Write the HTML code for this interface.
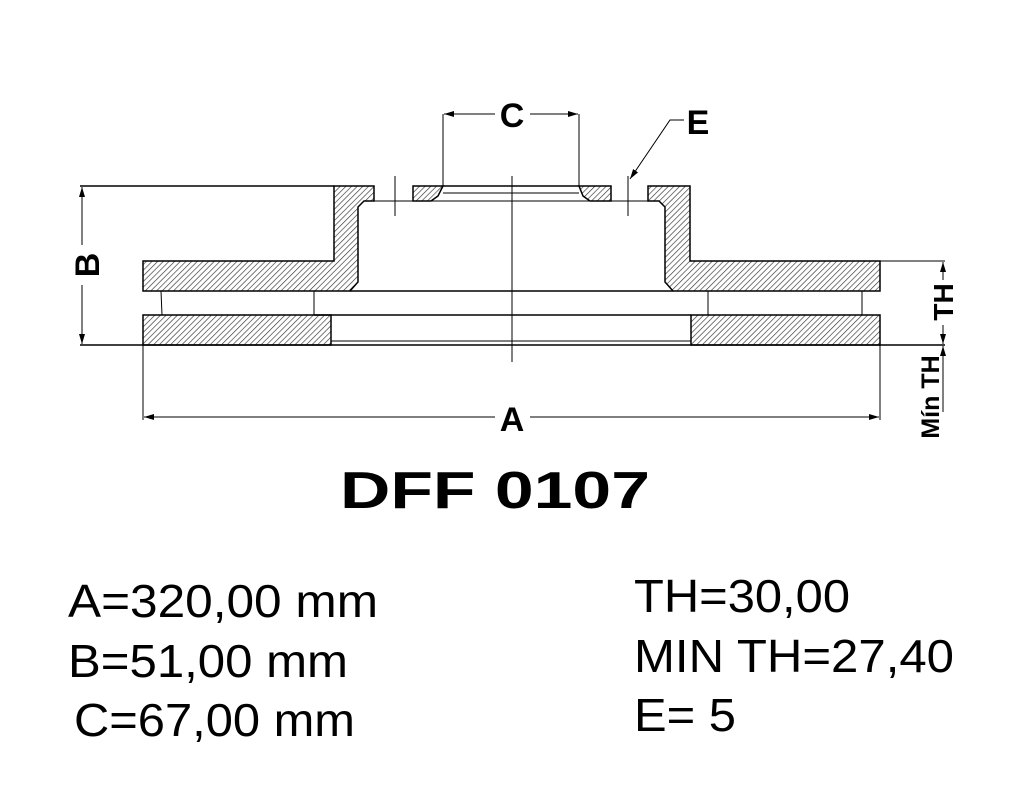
<!DOCTYPE html>
<html><head><meta charset="utf-8"><style>
html,body{margin:0;padding:0;background:#fff;width:1026px;height:794px;overflow:hidden}
svg{display:block}
</style></head><body>
<svg width="1026" height="794" viewBox="0 0 1026 794" xmlns="http://www.w3.org/2000/svg" font-family="Liberation Sans, sans-serif">
<defs>
<pattern id="h" patternUnits="userSpaceOnUse" width="4" height="4" patternTransform="rotate(45)">
<rect width="4" height="4" fill="#fff"/><line x1="0" y1="0" x2="0" y2="4" stroke="#333" stroke-width="1.3"/>
</pattern>
<marker id="ar" markerWidth="10" markerHeight="8" refX="10" refY="4" orient="auto" markerUnits="userSpaceOnUse"><path d="M0,1 L10,4 L0,7 Z" fill="#000"/></marker>
</defs>
<g stroke="#000" stroke-width="1.5" fill="none">
<path d="M334,186 L374,186 L374,201 L364,201 L358,207 L358,282 L350,291 L143,291 L143,261 L334,261 Z" fill="url(#h)"/>
<path d="M690,186 L648,186 L648,201 L659,201 L665,207 L665,282 L673,291 L880,291 L880,261 L690,261 Z" fill="url(#h)"/>
<path d="M413,186 L443,186 L438,196 L431,201 L413,201 Z" fill="url(#h)"/>
<path d="M579,186 L611,186 L611,201 L590,201 L583,196 Z" fill="url(#h)"/>
<rect x="143" y="315" width="188" height="30" fill="url(#h)"/>
<rect x="691" y="315" width="189" height="30" fill="url(#h)"/>
<line x1="80" y1="186" x2="334" y2="186"/>
<line x1="443" y1="186" x2="579" y2="186"/>
<line x1="443" y1="193" x2="579" y2="193" stroke-width="1"/>
<line x1="374" y1="201" x2="648" y2="201" stroke-width="1"/>
<line x1="350" y1="291" x2="673" y2="291"/>
<line x1="314" y1="315" x2="691" y2="315"/>
<line x1="331" y1="341" x2="691" y2="341" stroke-width="1"/>
<line x1="80" y1="345" x2="945" y2="345"/>
<line x1="880" y1="261" x2="945" y2="261" stroke-width="1"/>
<line x1="161" y1="291" x2="162" y2="315" stroke-width="1"/>
<line x1="314" y1="291" x2="314" y2="315" stroke-width="1"/>
<line x1="708" y1="291" x2="708" y2="315" stroke-width="1"/>
<line x1="862" y1="291" x2="862" y2="315" stroke-width="1"/>
<line x1="512" y1="176" x2="512" y2="362" stroke-width="1"/>
<line x1="395" y1="176" x2="395" y2="216" stroke-width="1"/>
<line x1="628" y1="176" x2="628" y2="216" stroke-width="1"/>
<line x1="443" y1="186" x2="443" y2="114" stroke-width="1"/>
<line x1="579" y1="186" x2="579" y2="114" stroke-width="1"/>
<line x1="495" y1="114" x2="444" y2="114" stroke-width="1" marker-end="url(#ar)"/>
<line x1="530" y1="114" x2="578" y2="114" stroke-width="1" marker-end="url(#ar)"/>
<polyline points="684,120 670,120 630,179" stroke-width="1" marker-end="url(#ar)"/>
<line x1="82" y1="245" x2="82" y2="187" stroke-width="1" marker-end="url(#ar)"/>
<line x1="82" y1="285" x2="82" y2="344" stroke-width="1" marker-end="url(#ar)"/>
<line x1="143" y1="345" x2="143" y2="420" stroke-width="1"/>
<line x1="880" y1="345" x2="880" y2="420" stroke-width="1"/>
<line x1="495" y1="417" x2="144" y2="417" stroke-width="1" marker-end="url(#ar)"/>
<line x1="530" y1="417" x2="879" y2="417" stroke-width="1" marker-end="url(#ar)"/>
<line x1="943" y1="280" x2="943" y2="262" stroke-width="1" marker-end="url(#ar)"/>
<line x1="943" y1="325" x2="943" y2="344" stroke-width="1" marker-end="url(#ar)"/>
<line x1="943" y1="360" x2="943" y2="346" stroke-width="1" marker-end="url(#ar)"/>
<line x1="943" y1="360" x2="943" y2="412" stroke-width="1"/>
</g>
<g font-weight="bold" fill="#000">
<text x="512" y="127" font-size="34" text-anchor="middle">C</text>
<text x="698" y="134" font-size="34" text-anchor="middle">E</text>
<text x="512" y="431" font-size="34" text-anchor="middle">A</text>
<text transform="translate(99,265) rotate(-90)" font-size="34" text-anchor="middle">B</text>
<text transform="translate(953,302) rotate(-90)" font-size="28" text-anchor="middle">TH</text>
<text transform="translate(939,397) rotate(-90)" font-size="25" text-anchor="middle">Mín TH</text>
<text x="340" y="508" font-size="52" textLength="310" lengthAdjust="spacingAndGlyphs">DFF  0107</text>
</g>
<g font-size="46" fill="#000">
<text x="68" y="617" textLength="310" lengthAdjust="spacingAndGlyphs">A=320,00 mm</text>
<text x="68" y="677" textLength="280" lengthAdjust="spacingAndGlyphs">B=51,00 mm</text>
<text x="74" y="736" textLength="281" lengthAdjust="spacingAndGlyphs">C=67,00 mm</text>
<text x="634" y="612" textLength="216" lengthAdjust="spacingAndGlyphs">TH=30,00</text>
<text x="634" y="672" textLength="320" lengthAdjust="spacingAndGlyphs">MIN TH=27,40</text>
<text x="634" y="731" textLength="102" lengthAdjust="spacingAndGlyphs">E= 5</text>
</g>
</svg>
</body></html>
